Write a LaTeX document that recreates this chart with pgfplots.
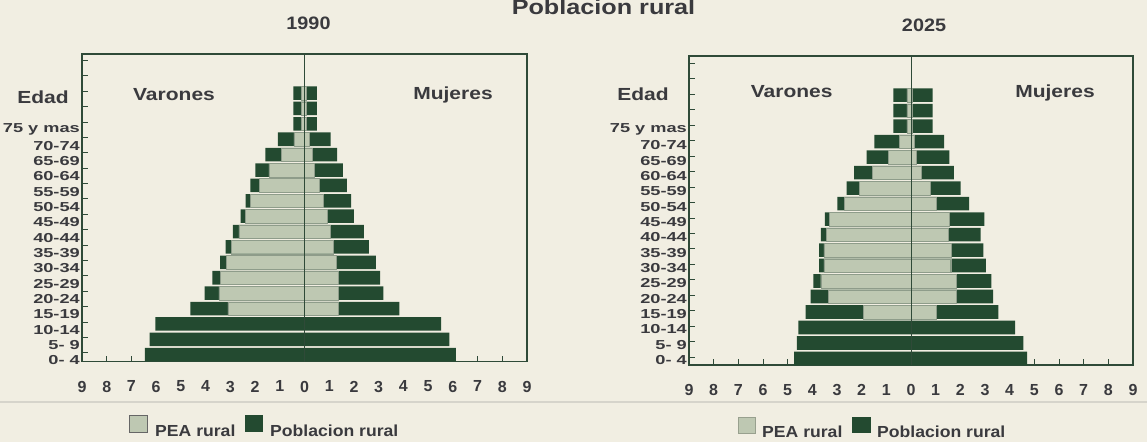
\documentclass[border=0pt]{standalone}
\usepackage{pgfplots}
\pgfplotsset{compat=1.18}
\usepackage{fontspec}
\setmainfont{Liberation Sans}
\definecolor{paper}{HTML}{F1EEE2}
\definecolor{dk}{HTML}{234A30}
\definecolor{lt}{HTML}{BEC8B2}
\definecolor{ltedge}{HTML}{8E9C8A}
\definecolor{txt}{HTML}{3A3A3E}
\definecolor{axc}{HTML}{2F4A38}
\definecolor{faint}{HTML}{D6D4CB}
\newcommand{\yl}[1]{\scalebox{1.4}[1]{#1}}
\pgfplotsset{
 pyr/.style={
  scale only axis, anchor=south west,
  xmin=-9, xmax=9,
  bar width=0.88,
  axis line style={draw=axc, line width=1.2pt},
  tick style={draw=axc, line width=1pt},
  major tick length=6pt, tick align=inside, tick pos=left,
  xtick={-9,-8,-7,-6,-5,-4,-3,-2,-1,0,1,2,3,4,5,6,7,8,9},
  xticklabels={9,8,7,6,5,4,3,2,1,0,1,2,3,4,5,6,7,8,9},
  xticklabel style={font=\fontsize{16}{16}\selectfont\bfseries, text=txt, anchor=north, inner sep=0pt, yshift=-19pt},
  yticklabels={},
  extra y tick style={major tick length=0pt, yticklabel style={font=\fontsize{13}{13}\selectfont\bfseries, text=txt, anchor=east, inner sep=0pt, xshift=-2pt}},
  extra y tick labels={\yl{0- 4},\yl{5- 9},\yl{10-14},\yl{15-19},\yl{20-24},\yl{25-29},\yl{30-34},\yl{35-39},\yl{40-44},\yl{45-49},\yl{50-54},\yl{55-59},\yl{60-64},\yl{65-69},\yl{70-74},\yl{75 y mas}},
 },
 dkb/.style={xbar, bar shift=0pt, fill=dk, draw=none},
 ltb/.style={xbar, bar shift=0pt, fill=lt, draw=ltedge, line width=0.4pt},
}
\begin{document}
\begin{tikzpicture}[x=1pt,y=1pt]
\fill[paper] (0,0) rectangle (1147,442);
\useasboundingbox (0,0) rectangle (1147,442);
\draw[faint, line width=1.2pt] (0,40) -- (1147,40);

% ---------- 1990 ----------
\begin{axis}[pyr, at={(82pt,80.3pt)}, width=445pt, height=307.7pt,
  ymin=-0.455, ymax=19.54,
  ytick={0.12,1.12,2.12,3.12,4.12,5.12,6.12,7.12,8.12,9.12,10.12,11.12,12.12,13.12,14.12,15.12,16.12,17.12,18.12,19.12},
  extra y ticks={-0.36,0.635,1.63,2.625,3.62,4.615,5.61,6.605,7.6,8.595,9.59,10.585,11.58,12.575,13.57,14.67}]
\addplot[dkb] coordinates {(-6.46,0) (-6.26,1) (-6.03,2) (-4.62,3) (-4.04,4) (-3.73,5) (-3.41,6) (-3.19,7) (-2.90,8) (-2.58,9) (-2.38,10) (-2.19,11) (-1.99,12) (-1.58,13) (-1.08,14) (-0.45,15) (-0.45,16) (-0.45,17)};
\addplot[dkb] coordinates {(6.12,0) (5.86,1) (5.53,2) (3.84,3) (3.19,4) (3.06,5) (2.89,6) (2.60,7) (2.40,8) (2.00,9) (1.89,10) (1.71,11) (1.55,12) (1.32,13) (1.06,14) (0.50,15) (0.50,16) (0.50,17)};
\addplot[ltb] coordinates {(-3.10,3) (-3.46,4) (-3.41,5) (-3.16,6) (-2.96,7) (-2.65,8) (-2.38,9) (-2.19,10) (-1.82,11) (-1.44,12) (-0.94,13) (-0.43,14) (-0.12,15) (-0.12,16) (-0.12,17)};
\addplot[ltb] coordinates {(1.35,3) (1.35,4) (1.35,5) (1.28,6) (1.18,7) (1.05,8) (0.90,9) (0.77,10) (0.58,11) (0.40,12) (0.31,13) (0.20,14) (0.06,15) (0.06,16) (0.06,17)};
\draw[axc, line width=0.9pt] (axis cs:0,-0.455) -- (axis cs:0,19.54);
\end{axis}

% ---------- 2025 ----------
\begin{axis}[pyr, at={(689pt,77pt)}, width=444pt, height=309pt,
  ymin=-0.42, ymax=19.53,
  ytick={0.07,1.07,2.07,3.07,4.07,5.07,6.07,7.07,8.07,9.07,10.07,11.07,12.07,13.07,14.07,15.07,16.07,17.07,18.07,19.07},
  extra y ticks={-0.1,0.89,1.88,2.87,3.86,4.85,5.84,6.83,7.82,8.81,9.8,10.79,11.78,12.77,13.76,14.8}]
\addplot[dkb] coordinates {(-4.74,0) (-4.63,1) (-4.57,2) (-4.27,3) (-4.07,4) (-3.96,5) (-3.73,6) (-3.73,7) (-3.65,8) (-3.49,9) (-2.99,10) (-2.61,11) (-2.31,12) (-1.80,13) (-1.49,14) (-0.72,15) (-0.72,16) (-0.72,17)};
\addplot[dkb] coordinates {(4.71,0) (4.55,1) (4.22,2) (3.54,3) (3.33,4) (3.26,5) (3.03,6) (2.93,7) (2.82,8) (2.97,9) (2.36,10) (2.01,11) (1.74,12) (1.55,13) (1.34,14) (0.88,15) (0.88,16) (0.88,17)};
\addplot[ltb] coordinates {(-1.93,3) (-3.35,4) (-3.66,5) (-3.53,6) (-3.53,7) (-3.42,8) (-3.31,9) (-2.70,10) (-2.10,11) (-1.57,12) (-0.92,13) (-0.47,14) (-0.17,15) (-0.17,16) (-0.17,17)};
\addplot[ltb] coordinates {(1.01,3) (1.82,4) (1.82,5) (1.61,6) (1.62,7) (1.51,8) (1.54,9) (1.04,10) (0.77,11) (0.43,12) (0.23,13) (0.12,14) (0.06,15) (0.06,16) (0.06,17)};
\draw[axc, line width=0.9pt] (axis cs:0,-0.42) -- (axis cs:0,19.53);
\end{axis}

% ---------- texts ----------
\node[font=\fontsize{21}{21}\selectfont\bfseries, text=txt, anchor=base, xscale=1.2, inner sep=0pt] at (603.5,427) {Poblacion rural};
\node[font=\fontsize{18}{18}\selectfont\bfseries, text=txt, anchor=base, xscale=1.1, inner sep=0pt] at (308.5,412) {1990};
\node[font=\fontsize{18}{18}\selectfont\bfseries, text=txt, anchor=base, xscale=1.1, inner sep=0pt] at (924,410) {2025};
\tikzset{lab/.style={font=\fontsize{17.5}{17.5}\selectfont\bfseries, text=txt, anchor=base, xscale=1.2, inner sep=0pt}}
\node[lab] at (43,338) {Edad};
\node[lab] at (174,341.3) {Varones};
\node[lab] at (453,342) {Mujeres};
\node[lab] at (643,341) {Edad};
\node[lab] at (791.7,344.7) {Varones};
\node[lab] at (1055,344) {Mujeres};

% ---------- legends ----------
\tikzset{leg/.style={font=\fontsize{16}{16}\selectfont\bfseries, text=txt, anchor=base west, xscale=1.1, inner sep=0pt}}
\filldraw[fill=lt, draw=gray!80!black, line width=0.8pt] (129,10) rectangle (147,27);
\node[leg] at (155,5.5) {PEA rural};
\fill[dk] (245,10) rectangle (263,27);
\node[leg] at (270,5.5) {Poblacion rural};
\filldraw[fill=lt, draw=lt!80!black, line width=0.6pt] (738,9) rectangle (755,25);
\node[leg] at (762,5) {PEA rural};
\fill[dk] (852,9) rectangle (871,25);
\node[leg] at (877,5) {Poblacion rural};
\end{tikzpicture}
\end{document}
